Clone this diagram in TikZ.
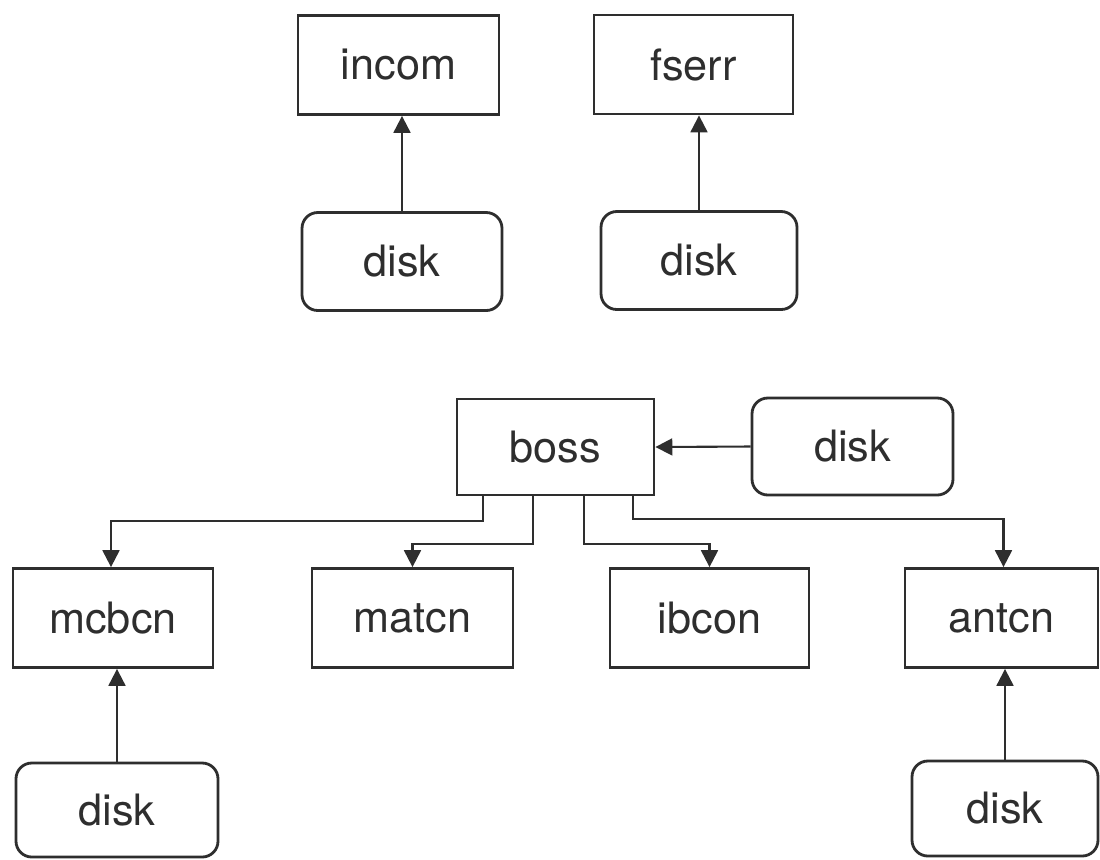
\documentclass[tikz,border=0pt]{standalone}
\usepackage{fontspec}
\setmainfont{TeX Gyre Heros}
\usetikzlibrary{arrows.meta}
\definecolor{ink}{HTML}{2E2E2E}
\begin{document}
\begin{tikzpicture}[
  font=\fontsize{12.3}{14}\selectfont,
  every node/.style={text=ink},
  boxnode/.style={draw=ink, line width=0.8pt, rectangle, minimum width=2.0cm, minimum height=0.99cm, inner sep=0pt},
  disknode/.style={draw=ink, line width=0.8pt, rectangle, rounded corners=4.5pt, minimum width=2.0cm, minimum height=0.98cm, inner sep=0pt},
  arr/.style={draw=ink, line width=0.6pt, -{Triangle[width=4.8pt,length=4.8pt]}}
]
\useasboundingbox (0,0) rectangle (11,-8.59);
% top pair
\node[boxnode, minimum width=2.01cm] (incom) at (3.985,-0.65) {incom};
\node[boxnode, minimum width=1.99cm] (fserr) at (6.935,-0.645) {fserr};
\node[disknode] (diskA) at (4.02,-2.615) {disk};
\node[disknode, minimum width=1.96cm] (diskB) at (6.99,-2.605) {disk};
\draw[arr] (diskA.north) -- (diskA.north |- incom.south);
\draw[arr] (diskB.north) -- (diskB.north |- fserr.south);
% middle
\node[boxnode, minimum width=1.97cm, minimum height=0.96cm] (boss) at (5.555,-4.47) {boss};
\node[disknode, minimum width=2.01cm, minimum height=0.97cm] (diskC) at (8.525,-4.465) {disk};
\draw[arr] (diskC.west) -- (boss.east);
% bottom row
\node[boxnode] (mcbcn) at (1.13,-6.18) {mcbcn};
\node[boxnode, minimum width=2.01cm] (matcn) at (4.125,-6.18) {matcn};
\node[boxnode, minimum width=1.99cm] (ibcon) at (7.095,-6.18) {ibcon};
\node[boxnode, minimum width=1.93cm] (antcn) at (10.015,-6.18) {antcn};
% connectors from boss
\draw[arr] ([xshift=-7.25mm]boss.south) -- ++(0,-0.25) -| ([xshift=-0.2mm]mcbcn.north);
\draw[arr] ([xshift=-2.25mm]boss.south) -- ++(0,-0.48) -| (matcn.north);
\draw[arr] ([xshift=2.85mm]boss.south) -- ++(0,-0.48) -| (ibcon.north);
\draw[arr] ([xshift=7.75mm]boss.south) -- ++(0,-0.23) -| ([xshift=0.2mm]antcn.north);
% bottom disks
\node[disknode, minimum width=2.02cm, minimum height=0.94cm] (diskD) at (1.17,-8.10) {disk};
\node[disknode, minimum width=1.86cm, minimum height=0.95cm] (diskE) at (10.05,-8.085) {disk};
\draw[arr] (diskD.north) -- (diskD.north |- mcbcn.south);
\draw[arr] (diskE.north) -- (diskE.north |- antcn.south);
\end{tikzpicture}
\end{document}
